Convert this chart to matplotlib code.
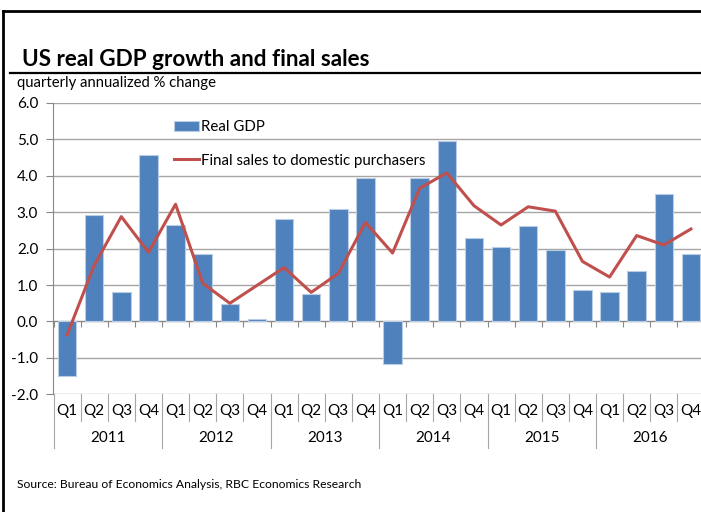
import matplotlib
matplotlib.use("Agg")
import matplotlib.pyplot as plt
from matplotlib.lines import Line2D
import numpy as np

years = ["2011", "2012", "2013", "2014", "2015", "2016"]
quarters = ["Q1", "Q2", "Q3", "Q4"]
real_gdp = [-1.51, 2.93, 0.82, 4.57,
            2.66, 1.86, 0.48, 0.07,
            2.82, 0.76, 3.10, 3.95,
            -1.18, 3.95, 4.95, 2.29,
            2.05, 2.61, 1.96, 0.87,
            0.82, 1.39, 3.50, 1.86]
final_sales = [-0.37, 1.54, 2.88, 1.90,
               3.22, 1.05, 0.50, 0.99,
               1.48, 0.80, 1.32, 2.72,
               1.88, 3.66, 4.08, 3.18,
               2.65, 3.15, 3.03, 1.65,
               1.22, 2.36, 2.10, 2.54]
yticks = [-2.0, -1.0, 0.0, 1.0, 2.0, 3.0, 4.0, 5.0, 6.0]

plt.rcParams['font.family'] = ['Lato', 'DejaVu Sans']

W, H = 701, 512
fig = plt.figure(figsize=(W/100, H/100), dpi=100)

def fx(px): return px / W
def fy(py): return 1 - py / H

left, right, top, bottom = 53.5, 704.5, 103, 394.3
ax = fig.add_axes([fx(left), fy(bottom), fx(right) - fx(left), fy(top) - fy(bottom)])

n = len(real_gdp)
x = np.arange(n)
bars = ax.bar(x, real_gdp, width=0.68, color="#4F81BD", edgecolor="#B9CDE5", linewidth=0.8,
              label="Real GDP", zorder=3)
line, = ax.plot(x, final_sales, color="#C0504D", linewidth=2.2,
                label="Final sales to domestic purchasers", zorder=4)

ax.set_xlim(-0.5, n - 0.5)
ax.set_ylim(-2, 6)
ax.set_yticks(yticks)
ax.set_yticklabels([f"{v:.1f}" for v in yticks], fontsize=11)
ax.yaxis.grid(True, color="#A6A6A6", linewidth=1.0, zorder=0)
ax.set_axisbelow(True)
ax.tick_params(axis='y', length=5, color="#888888", pad=6, width=0.8)
for s in ["top", "right"]:
    ax.spines[s].set_visible(False)
ax.spines["left"].set_color("#888888")
ax.spines["bottom"].set_position(("data", 0))
ax.spines["bottom"].set_color("#888888")
ax.set_xticks(np.arange(-0.5, n, 1.0))
ax.set_xticklabels([])
ax.tick_params(axis='x', length=4, color="#888888", width=0.8, direction="out")

# category labels below axes
trans = ax.get_xaxis_transform()
lc = "#A6A6A6"
q_sep_px = 420.7 - bottom
y_sep_px = 447.7 - bottom
ax_h = bottom - top
for i in range(n):
    ax.text(i, -(411.5 - bottom) / ax_h, quarters[i % 4], transform=trans, ha="center",
            va="center", fontsize=11, clip_on=False)
for i in range(n + 1):
    depth = y_sep_px if i % 4 == 0 else q_sep_px
    ax.add_line(Line2D([i - 0.5, i - 0.5], [0, -depth / ax_h], transform=trans,
                       color=lc, linewidth=0.8, clip_on=False))
for k, yr in enumerate(years):
    ax.text(4 * k + 1.5, -(438.5 - bottom) / ax_h, yr, transform=trans, ha="center",
            va="center", fontsize=11, clip_on=False)

leg = ax.legend([bars, line], ["Real GDP", "Final sales to domestic purchasers"],
                loc="upper left", bbox_to_anchor=(fx(177) - fx(left), 1 - (114 - top) / ax_h),
                bbox_transform=ax.transAxes, frameon=False, fontsize=10.8,
                handlelength=1.65, handletextpad=0.15, labelspacing=1.3, borderaxespad=0)
leg.set_zorder(5)

# title & subtitle
fig.text(fx(22), fy(60), "US real GDP growth and final sales", fontsize=16.2, fontweight="bold",
         ha="left", va="center")
fig.text(fx(17), fy(83), "quarterly annualized % change", fontsize=10.7, ha="left", va="center")
fig.add_artist(Line2D([fx(10), fx(701)], [fy(73), fy(73)], color="black", linewidth=1.6))
fig.text(fx(17), fy(484), "Source: Bureau of Economics Analysis, RBC Economics Research",
         fontsize=8.7, ha="left", va="center")

# outer frame (left & top)
fig.add_artist(Line2D([fx(3), fx(3)], [fy(512), fy(11)], color="black", linewidth=2.0))
fig.add_artist(Line2D([fx(3), fx(701)], [fy(11), fy(11)], color="black", linewidth=2.0))

fig.savefig("out.png", dpi=100)
